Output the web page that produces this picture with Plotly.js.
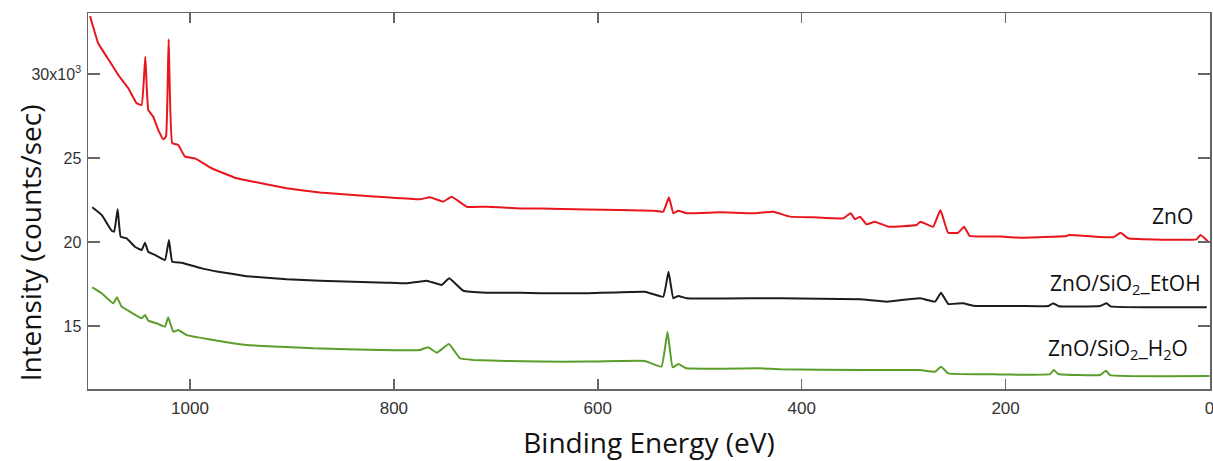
<!DOCTYPE html>
<html>
<head>
<meta charset="utf-8">
<script src="https://cdn.plot.ly/plotly-3.0.1.min.js"></script>
<style>
  html, body { margin: 0; padding: 0; background: #ffffff; }
  #chart { width: 1213px; height: 461px; }
</style>
</head>
<body>
<div id="chart"></div>
<script>
// Binding energy (eV) and intensity (x10^3 counts/sec)
const znoEnergy = [1098,1090,1078.5,1070.3,1060.5,1052.3,1047.4,1043.8,1040.9,1036,1031.1,1026.2,1023.5,1020.9,1017.4,1011.5,1004.9,995.1,978.7,970.6,954.2,937.9,905.1,872.5,839.8,807.1,774.4,764.6,751.5,743.3,728.6,708.9,676.3,656.9,611,545.6,535.8,530.2,525.9,521,512.8,480.1,447.5,427.8,411.5,388.6,359.2,352,347.7,342.8,336.3,328.2,315.1,287.3,283.5,271.1,263.9,256.4,246.6,240.7,235.2,205.5,186.2,140,137.8,94.4,87.2,79.7,12.7,8.7,1.2];
const znoCounts = [33.45,31.83,30.73,29.94,29.15,28.26,28.15,31.03,27.86,27.46,26.67,26.11,26.27,32.07,25.88,25.77,25.08,24.98,24.39,24.18,23.79,23.59,23.20,22.94,22.80,22.66,22.54,22.66,22.40,22.70,22.10,22.10,22.00,22.00,21.94,21.86,21.80,22.66,21.71,21.86,21.71,21.77,21.71,21.80,21.51,21.47,21.41,21.71,21.35,21.51,21.05,21.21,20.91,21.01,21.21,20.91,21.90,20.55,20.55,20.91,20.36,20.32,20.26,20.36,20.42,20.28,20.55,20.22,20.16,20.42,20.02];

const etohEnergy = [1095.8,1086.6,1076.8,1074.3,1070.9,1068,1062.1,1054,1047.4,1044.1,1040.9,1034.3,1024.5,1020.6,1017.4,1008.1,988.5,972.2,946,937.9,905.1,872.5,839.8,807.1,787.5,767.9,753.2,745.7,731.9,708.9,676.3,656.9,611,553.8,535.8,530.6,525.9,521,512.8,440.9,421.3,342.8,316.6,283.9,269.2,263.3,256.2,241.7,232,205.5,185.9,158,153.2,148,107.4,100.8,97,2.7];
const etohCounts = [22.07,21.61,20.67,20.61,21.95,20.32,20.22,19.72,19.52,19.96,19.42,19.23,18.93,20.12,18.83,18.77,18.43,18.23,17.98,17.93,17.78,17.70,17.64,17.58,17.54,17.70,17.44,17.84,17.10,16.98,16.98,16.95,16.95,17.04,16.74,18.23,16.65,16.79,16.65,16.65,16.65,16.59,16.45,16.65,16.45,16.98,16.31,16.35,16.21,16.19,16.19,16.19,16.35,16.18,16.19,16.35,16.17,16.11];

const h2oEnergy = [1095.8,1086.6,1075.2,1071.6,1067,1060.5,1047.4,1044.1,1040.9,1032.7,1024.5,1021.3,1016.4,1011.5,1003.2,977.1,944.4,911.7,879,813.6,774.4,766.3,758,746,735.2,722.1,656.9,611,553.8,537.5,531.6,526.6,521,512.8,440.9,421.3,342.8,283.9,269.2,263.3,256.2,205.5,185.9,156.4,152.6,148.3,107.4,101.5,97.6,0];
const h2oCounts = [17.30,16.95,16.35,16.71,16.15,15.91,15.46,15.65,15.32,15.16,14.96,15.52,14.66,14.76,14.46,14.17,13.87,13.77,13.67,13.57,13.57,13.73,13.41,13.93,13.08,12.98,12.88,12.88,12.92,12.58,14.66,12.54,12.74,12.48,12.48,12.42,12.38,12.38,12.28,12.58,12.18,12.12,12.10,12.14,12.38,12.14,12.08,12.34,12.08,12.02];

const seriesNames = ['ZnO', 'ZnO/SiO<sub>2</sub>_EtOH', 'ZnO/SiO<sub>2</sub>_H<sub>2</sub>O'];
const yTickVals = [15, 20, 25, 30];
const yTickText = ['15', '20', '25', '30x10<sup>3</sup>'];
const xTickVals = [0, 200, 400, 600, 800, 1000];

const colors = ['#e8161c', '#1c1c1c', '#5c9e2c'];

const traces = [
  {x: znoEnergy, y: znoCounts, name: seriesNames[0]},
  {x: etohEnergy, y: etohCounts, name: seriesNames[1]},
  {x: h2oEnergy, y: h2oCounts, name: seriesNames[2]}
].map((t, i) => Object.assign(t, {
  type: 'scatter', mode: 'lines',
  line: {color: colors[i], width: 2, shape: 'spline', smoothing: 0.3},
  hoverinfo: 'x+y+name'
}));

const yTickFont = {family: 'Liberation Sans, Arial, sans-serif', size: 16, color: '#333333'};
const xTickFont = {family: 'Liberation Sans Narrow, Liberation Sans, Arial, sans-serif', size: 17, color: '#333333'};
const labelFont = {family: 'Open Sans, sans-serif', size: 21, color: '#111111'};

const layout = {
  width: 1213, height: 461,
  margin: {l: 88, r: 3, t: 13, b: 72},
  paper_bgcolor: '#ffffff', plot_bgcolor: '#ffffff',
  showlegend: false,
  xaxis: {
    range: [1100, -0.5],
    tickvals: xTickVals,
    ticks: 'inside', ticklen: 10, tickwidth: 1.5, tickcolor: '#666666',
    showline: true, linecolor: '#666666', linewidth: 1.5, mirror: 'ticks',
    showgrid: false, zeroline: false,
    tickfont: xTickFont,
    ticklabeloverflow: 'allow',
    ticklabelstandoff: 3,
    title: {text: 'Binding Energy (eV)', font: {family: 'Open Sans, sans-serif', size: 28, color: '#111111'}, standoff: 16}
  },
  yaxis: {
    range: [11.25, 33.63],
    tickvals: yTickVals, ticktext: yTickText,
    ticks: 'inside', ticklen: 12, tickwidth: 1.5, tickcolor: '#666666',
    showline: true, linecolor: '#666666', linewidth: 1.5, mirror: 'ticks',
    showgrid: false, zeroline: false,
    tickfont: yTickFont,
    ticklabelstandoff: 2
  },
  annotations: [
    {text: 'Intensity (counts/sec)', xref: 'paper', yref: 'paper', x: -0.0517, y: 0.39,
     xanchor: 'center', yanchor: 'middle', textangle: -90, showarrow: false,
     font: {family: 'Open Sans, sans-serif', size: 28, color: '#111111'}},
    {text: seriesNames[0], xref: 'paper', yref: 'paper', x: 0.967, y: 0.460, xanchor: 'center', yanchor: 'middle', showarrow: false, font: labelFont},
    {text: seriesNames[1], xref: 'paper', yref: 'paper', x: 0.925, y: 0.279, xanchor: 'center', yanchor: 'middle', showarrow: false, font: labelFont},
    {text: seriesNames[2], xref: 'paper', yref: 'paper', x: 0.918, y: 0.106, xanchor: 'center', yanchor: 'middle', showarrow: false, font: labelFont}
  ]
};

Plotly.newPlot('chart', traces, layout, {displayModeBar: false, staticPlot: true});
</script>
</body>
</html>
